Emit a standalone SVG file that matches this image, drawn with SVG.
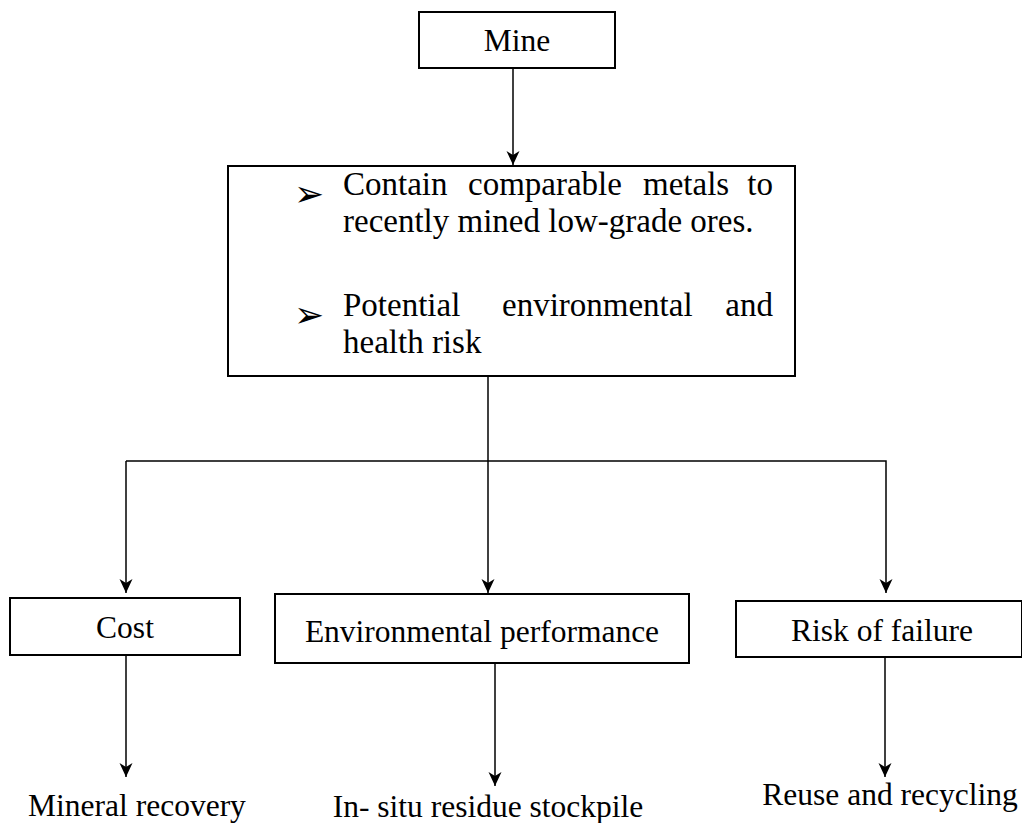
<svg xmlns="http://www.w3.org/2000/svg" width="1022" height="823" viewBox="0 0 1022 823">
<style>
.box{fill:#fff;stroke:#000;stroke-width:2}
.lbl{font-family:'Liberation Serif','Tinos','Times New Roman','Nimbus Roman','DejaVu Serif',serif;font-size:31.5px;fill:#000}
.body{font-family:'Liberation Serif','Tinos','Times New Roman','Nimbus Roman','DejaVu Serif',serif;font-size:33px;fill:#000}
.bul{font-family:'DejaVu Sans',sans-serif;font-size:36px;fill:#000}
.con{fill:none;stroke:#000;stroke-width:1.5}
</style>
<defs>
<marker id="ah" markerUnits="userSpaceOnUse" markerWidth="16" markerHeight="14" refX="14" refY="6.5" orient="auto">
<path d="M0,0 L14,6.5 L0,13 L4,6.5 z" fill="#000"/>
</marker>
</defs>
<rect width="1022" height="823" fill="#fff"/>
<g id="connectors">
<line class="con" x1="513" y1="68" x2="513" y2="165" marker-end="url(#ah)"/>
<line class="con" x1="488" y1="376" x2="488" y2="593" marker-end="url(#ah)"/>
<polyline class="con" points="126,461 886,461 886,593" marker-end="url(#ah)"/>
<line class="con" x1="126" y1="461" x2="126" y2="593" marker-end="url(#ah)"/>
<line class="con" x1="126" y1="655" x2="126" y2="777" marker-end="url(#ah)"/>
<line class="con" x1="495" y1="663" x2="495" y2="786" marker-end="url(#ah)"/>
<line class="con" x1="885" y1="657" x2="885" y2="777" marker-end="url(#ah)"/>
</g>
<g id="mine">
<rect class="box" x="419" y="12" width="196" height="56"/>
<text class="lbl" x="517" y="51" text-anchor="middle">Mine</text>
</g>
<g id="characteristics">
<rect class="box" x="228" y="166" width="567" height="210"/>
<text class="bul" x="294" y="206">➢</text>
<text class="body" y="195"><tspan x="343">Contain</tspan><tspan x="468">comparable</tspan><tspan x="643">metals</tspan></text>
<text class="body" x="773" y="195" text-anchor="end">to</text>
<text class="body" x="343" y="232">recently mined low-grade ores.</text>
<text class="bul" x="294" y="327">➢</text>
<text class="body" y="316"><tspan x="343">Potential</tspan><tspan x="502">environmental</tspan></text>
<text class="body" x="773" y="316" text-anchor="end">and</text>
<text class="body" x="343" y="353">health risk</text>
</g>
<g id="cost">
<rect class="box" x="10" y="598" width="230" height="57"/>
<text class="lbl" x="125" y="638" text-anchor="middle">Cost</text>
</g>
<g id="env">
<rect class="box" x="275" y="594" width="414" height="69"/>
<text class="lbl" x="482" y="642" text-anchor="middle">Environmental performance</text>
</g>
<g id="risk">
<rect class="box" x="736" y="601" width="286" height="56"/>
<text class="lbl" x="882" y="641" text-anchor="middle">Risk of failure</text>
</g>
<g id="mineral">
<text class="lbl" x="137" y="816" text-anchor="middle">Mineral recovery</text>
</g>
<g id="insitu">
<text class="lbl" x="488" y="817" text-anchor="middle">In- situ residue stockpile</text>
</g>
<g id="reuse">
<text class="lbl" x="890" y="805" text-anchor="middle">Reuse and recycling</text>
</g>
</svg>
